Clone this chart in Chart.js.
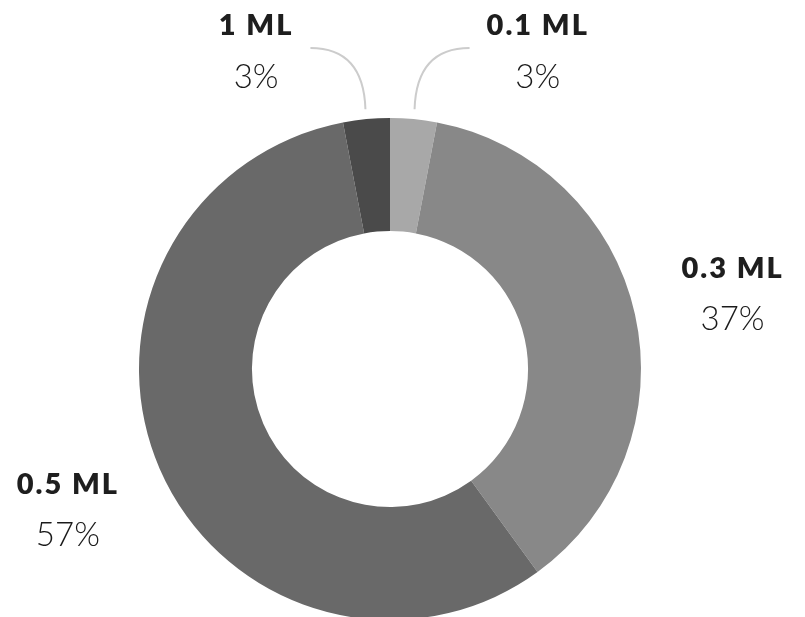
<!DOCTYPE html>
<html lang="en">
<head>
  <meta charset="UTF-8">
  <title>Dose share</title>
  <script src="https://cdn.jsdelivr.net/npm/chart.js"></script>
  <style>
    html, body { margin: 0; padding: 0; overflow: hidden; background: #fff; }
  </style>
</head>
<body>
  <canvas id="doseChart" width="805" height="620"></canvas>

  <script>
    // data
    const categories = ['0.1 ML', '0.3 ML', '0.5 ML', '1 ML'];
    const shares = [3, 37, 57, 3];
    const sliceColors = ['#a8a8a8', '#888888', '#696969', '#4a4a4a'];

    const labelFont = '800 29px Lato';
    const pctFont = '300 33px Lato';

    // draws the outside labels, with curved leader lines for the thin slices
    const outsideLabels = {
      id: 'outsideLabels',
      afterDraw(chart) {
        const ctx = chart.ctx;
        const meta = chart.getDatasetMeta(0);
        ctx.save();
        ctx.textAlign = 'center';
        ctx.textBaseline = 'alphabetic';
        meta.data.forEach((arc, i) => {
          const p = arc.getProps(['x', 'y', 'startAngle', 'endAngle', 'outerRadius'], true);
          const mid = (p.startAngle + p.endAngle) / 2;
          const dx = Math.cos(mid), dy = Math.sin(mid);
          let cx, labelY, pctY;

          ctx.font = labelFont;
          ctx.letterSpacing = '2px';
          const w = ctx.measureText(categories[i]).width;

          if (shares[i] < 5) {
            const side = dx >= 0 ? 1 : -1;
            const sx = p.x + (p.outerRadius + 10) * dx;
            const sy = p.y + (p.outerRadius + 10) * dy;
            const ex = sx + side * 55;
            const ey = p.y - p.outerRadius - 70;
            ctx.strokeStyle = '#cccccc';
            ctx.lineWidth = 2;
            ctx.beginPath();
            ctx.moveTo(sx, sy);
            ctx.quadraticCurveTo(sx + side * 2, ey, ex, ey);
            ctx.stroke();
            cx = ex + side * (17 + w / 2);
            labelY = p.y - p.outerRadius - 83;
            pctY = p.y - p.outerRadius - 30;
          } else {
            const r = p.outerRadius + 100;
            cx = p.x + r * dx;
            const ay = p.y + r * dy;
            labelY = ay - 14;
            pctY = ay + 38;
          }

          ctx.fillStyle = '#1e1e1e';
          ctx.fillText(categories[i], cx, labelY);

          ctx.font = pctFont;
          ctx.letterSpacing = '0px';
          ctx.fillStyle = '#1a1a1a';
          ctx.fillText(shares[i] + '%', cx, pctY);
        });
        ctx.restore();
      }
    };

    const ctx = document.getElementById('doseChart').getContext('2d');
    const doseChart = new Chart(ctx, {
      type: 'doughnut',
      data: {
        labels: categories,
        datasets: [{
          data: shares,
          backgroundColor: sliceColors,
          borderWidth: 0
        }]
      },
      options: {
        responsive: false,
        animation: false,
        cutout: '55%',
        layout: {
          padding: { top: 118, bottom: 0, left: 139, right: 164 }
        },
        plugins: {
          legend: { display: false },
          tooltip: { enabled: false }
        }
      },
      plugins: [outsideLabels]
    });
  </script>
</body>
</html>
